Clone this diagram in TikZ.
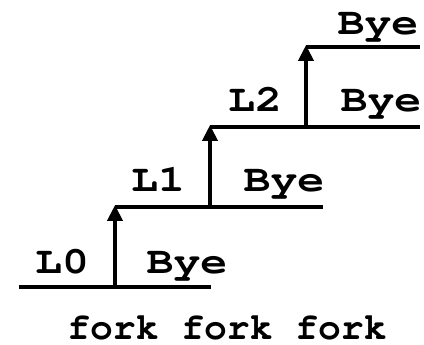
\documentclass[tikz,border=0pt]{standalone}
\usepackage[T1]{fontenc}
\usetikzlibrary{arrows.meta}
\newcommand{\courierbold}{\fontencoding{T1}\fontfamily{pcr}\fontseries{b}\selectfont}
\begin{document}
\begin{tikzpicture}[x=1pt,y=-1pt,
  lab/.style={font=\courierbold\fontsize{38}{38}\selectfont, inner sep=0pt, anchor=base, text depth=0pt},
  steplab/.style={lab, xscale=1.18, transform shape},
  flow/.style={line width=4pt},
  forkarrow/.style={line width=4pt, -{Triangle[length=16pt,width=15pt]}}]
\useasboundingbox (0,0) rectangle (424,345);
% process lines
\coordinate (a0) at (19,287);
\coordinate (b0) at (211,287);
\coordinate (f1) at (115,287);
\coordinate (a1) at (115,207);
\coordinate (b1) at (323,207);
\coordinate (f2) at (210,207);
\coordinate (a2) at (210,127);
\coordinate (b2) at (420,127);
\coordinate (f3) at (306,127);
\coordinate (a3) at (306,47);
\coordinate (b3) at (420,47);
\draw[flow] (a0) -- (b0);
\draw[flow] (a1) -- (b1);
\draw[flow] (a2) -- (b2);
\draw[flow] (a3) -- (b3);
\draw[forkarrow] (f1) -- ([yshift=2pt]a1);
\draw[forkarrow] (f2) -- ([yshift=2pt]a2);
\draw[forkarrow] (f3) -- ([yshift=2pt]a3);
% labels
\node[steplab] (l0) at (62,273) {L0};
\node[steplab] (bye0) at (187,273) {Bye};
\node[steplab] (l1) at (158,192) {L1};
\node[steplab] (bye1) at (284,192) {Bye};
\node[steplab] (l2) at (255,112) {L2};
\node[steplab] (bye2) at (381,112) {Bye};
\node[steplab] (bye3) at (378,35) {Bye};
\node[lab] (forks) at (227,339) {fork fork fork};
\end{tikzpicture}
\end{document}
